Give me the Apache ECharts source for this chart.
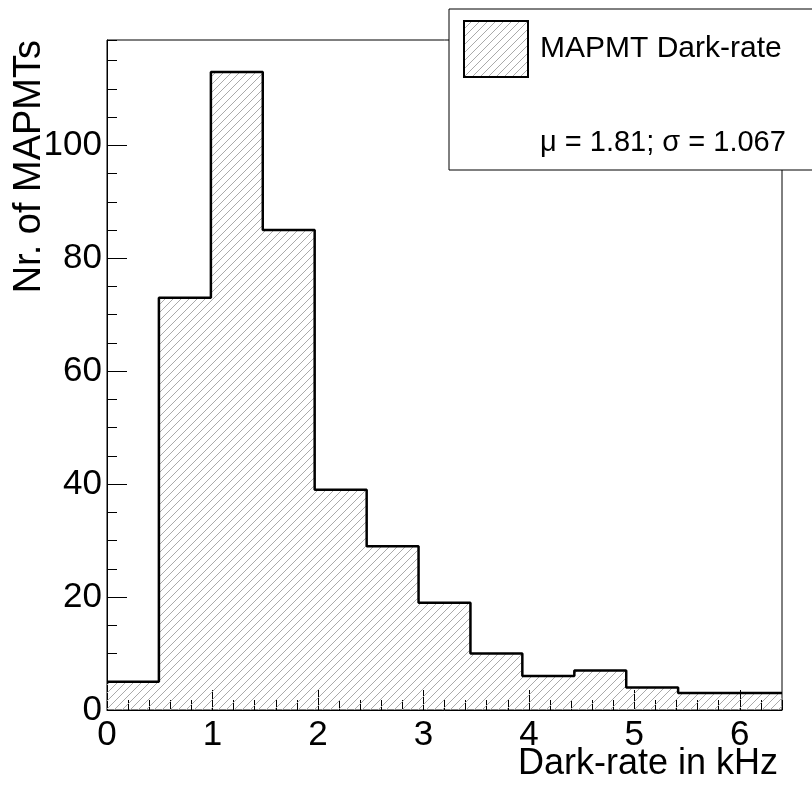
<!DOCTYPE html>
<html>
<head>
<meta charset="utf-8">
<script src="https://cdn.jsdelivr.net/npm/echarts@6/dist/echarts.min.js"></script>
<style>
html,body{margin:0;padding:0;background:#fff;}
#chart{width:812px;height:792px;}
</style>
</head>
<body>
<div id="chart"></div>
<script>
// Histogram bin edges (13 bins over 0 - 6.4 kHz) and counts
const binEdges = [0, 0.492, 0.985, 1.477, 1.969, 2.462, 2.954, 3.446, 3.938, 4.431, 4.923, 5.415, 5.908, 6.4];
const counts = [5, 73, 113, 85, 39, 29, 19, 10, 6, 7, 4, 3, 3];
const xRange = [0, 6.4];
const yRange = [0, 118.65];
const seriesName = 'MAPMT Dark-rate';
const statsText = 'μ = 1.81; σ = 1.067';
const xTitle = 'Dark-rate in kHz';
const yTitle = 'Nr. of MAPMTs';

const FONT = '"Liberation Sans", Arial, Helvetica, sans-serif';

// hatch pattern
function makeHatch() {
  const s = 8;
  const c = document.createElement('canvas');
  c.width = s; c.height = s;
  const g = c.getContext('2d');
  g.strokeStyle = '#aaaaaa';
  g.lineWidth = 1;
  g.beginPath();
  g.moveTo(0, s); g.lineTo(s, 0);
  g.moveTo(-1, 1); g.lineTo(1, -1);
  g.moveTo(s - 1, s + 1); g.lineTo(s + 1, s - 1);
  g.stroke();
  return c;
}
const hatch = { image: makeHatch(), repeat: 'repeat' };

// step outline points: left edge of each bin, plus the final right edge
const stepData = counts.map((v, i) => [binEdges[i], v]);
stepData.push([binEdges[binEdges.length - 1], counts[counts.length - 1]]);

const chart = echarts.init(document.getElementById('chart'), null, { renderer: 'canvas' });

const gridL = 107, gridR = 30, gridT = 40, gridB = 82;

const option = {
  backgroundColor: '#fff',
  animation: false,
  textStyle: { fontFamily: FONT },
  grid: { left: gridL, right: gridR, top: gridT, bottom: gridB, containLabel: false, outerBoundsMode: 'none', show: true, borderColor: '#000', borderWidth: 1, backgroundColor: 'transparent' },
  legend: {
    left: 463, top: 20, padding: 0,
    itemWidth: 64, itemHeight: 56,
    selectedMode: false,
    data: [{ name: seriesName, icon: 'rect', itemStyle: { color: hatch, borderColor: '#000', borderWidth: 2 } }],
    textStyle: { fontFamily: FONT, fontSize: 30, color: '#000', padding: [0, 0, 2, 7] }
  },
  xAxis: [
    {
      type: 'value', min: xRange[0], max: xRange[1], interval: 1,
      name: xTitle, nameLocation: 'end', nameGap: -4, nameMoveOverlap: false,
      nameTextStyle: { fontFamily: FONT, fontSize: 36, color: '#000', align: 'right', verticalAlign: 'top', padding: [36, 0, 0, 0] },
      axisLine: { show: true, onZero: false, lineStyle: { color: '#000', width: 1 } },
      axisTick: { show: true, inside: true, length: 20, lineStyle: { color: '#000', width: 1 } },
      axisLabel: { show: true, margin: 8, fontFamily: FONT, fontSize: 35, color: '#000', showMaxLabel: false, showMinLabel: true },
      splitLine: { show: false }
    },
    {
      type: 'value', min: xRange[0], max: xRange[1], interval: 0.2, position: 'bottom',
      axisLine: { show: false },
      axisTick: { show: true, inside: true, length: 10, lineStyle: { color: '#000', width: 1 } },
      axisLabel: { show: false },
      splitLine: { show: false }
    }
  ],
  yAxis: [
    {
      type: 'value', min: yRange[0], max: yRange[1], interval: 20,
      name: yTitle, nameLocation: 'end', nameGap: 0, nameRotate: 90, nameMoveOverlap: false,
      nameTextStyle: { fontFamily: FONT, fontSize: 38, color: '#000', align: 'right', verticalAlign: 'bottom', padding: [0, 0, 58, 0] },
      axisLine: { show: true, onZero: false, lineStyle: { color: '#000', width: 1 } },
      axisTick: { show: true, inside: true, length: 20, lineStyle: { color: '#000', width: 1 } },
      axisLabel: { show: true, margin: 5, fontFamily: FONT, fontSize: 35, color: '#000', showMaxLabel: false },
      splitLine: { show: false }
    },
    {
      type: 'value', min: yRange[0], max: yRange[1], interval: 5, position: 'left',
      axisLine: { show: false },
      axisTick: { show: true, inside: true, length: 10, lineStyle: { color: '#000', width: 1 } },
      axisLabel: { show: false },
      splitLine: { show: false }
    }
  ],
  graphic: [
    { type: 'rect', z: 3, shape: { x: 449, y: 9, width: 420, height: 161 }, style: { fill: '#fff', stroke: '#000', lineWidth: 1 } },
    { type: 'text', z: 5, x: 540, y: 143, style: { text: statsText, font: '29px ' + FONT, fill: '#000', verticalAlign: 'middle', align: 'left' } }
  ],
  series: [
    {
      name: seriesName,
      type: 'line',
      xAxisIndex: 0, yAxisIndex: 0,
      step: 'end',
      showSymbol: false,
      symbol: 'none',
      data: stepData,
      lineStyle: { color: '#000', width: 2.5 },
      itemStyle: { color: '#000' },
      areaStyle: { color: hatch, opacity: 1 },
      z: 2
    }
  ]
};
chart.setOption(option);
</script>
</body>
</html>
